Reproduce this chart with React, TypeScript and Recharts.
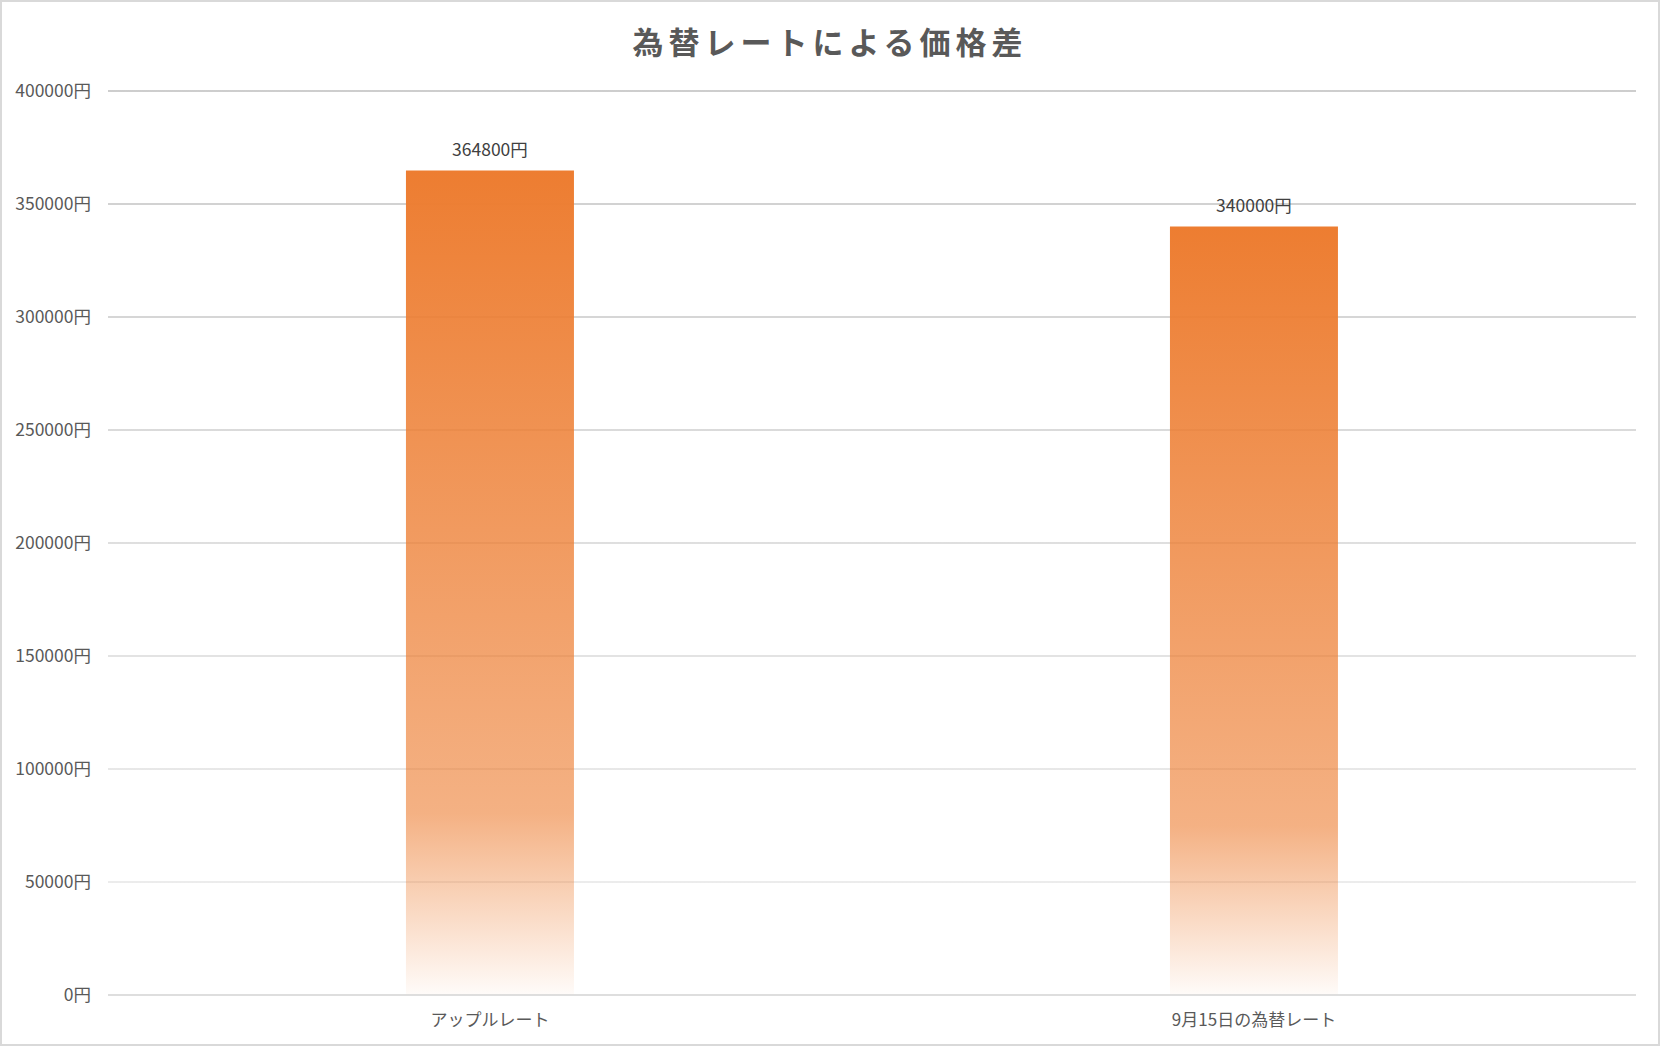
import React from 'react';
import { BarChart, Bar, XAxis, YAxis, CartesianGrid, LabelList } from 'recharts';

const categories = ['アップルレート', '9月15日の為替レート'];
const prices = [364800, 340000];
const yTicks = [0, 50000, 100000, 150000, 200000, 250000, 300000, 350000, 400000];
const titleText = '為替レートによる価格差';
const unit = '円';

const data = categories.map((name, i) => ({ name, price: prices[i] }));

const W = 1660;
const H = 1046;
const FONT = '"Noto Sans CJK JP", "Noto Sans", sans-serif';

export default function App() {
  return (
    <div style={{ position: 'absolute', left: 0, top: 0, width: W, height: H, background: '#fff' }}>
      <div
        style={{
          position: 'absolute',
          left: 0,
          top: 0,
          width: W,
          height: H,
          border: '2px solid #D9D9D9',
          boxSizing: 'border-box',
          pointerEvents: 'none',
          zIndex: 2,
        }}
      />
      <div
        style={{
          position: 'absolute',
          left: 0,
          top: 19,
          width: W,
          textAlign: 'center',
          fontFamily: FONT,
          fontWeight: 700,
          fontSize: 31,
          letterSpacing: 5,
          color: '#595959',
          lineHeight: '44px',
        }}
      >
        {titleText}
      </div>
      <BarChart
        width={W}
        height={H}
        data={data}
        margin={{ top: 91, right: 24, bottom: 0, left: 0 }}
        barCategoryGap="39%"
      >
        <defs>
          <linearGradient id="barGrad" x1="0" y1="0" x2="0" y2="1">
            <stop offset="0%" stopColor="#ED7D31" stopOpacity={1} />
            <stop offset="78%" stopColor="#ED7D31" stopOpacity={0.6} />
            <stop offset="100%" stopColor="#ED7D31" stopOpacity={0.03} />
          </linearGradient>
          <linearGradient id="gridGrad" gradientUnits="userSpaceOnUse" x1="0" y1="91" x2="0" y2="995">
            <stop offset="0%" stopColor="#BDBDBD" />
            <stop offset="100%" stopColor="#EBEBEB" />
          </linearGradient>
        </defs>
        <CartesianGrid vertical={false} stroke="url(#gridGrad)" strokeWidth={1.5} />
        <XAxis
          dataKey="name"
          height={51}
          tickSize={0}
          tickMargin={19}
          axisLine={{ stroke: '#D9D9D9', strokeWidth: 1.5 }}
          tickLine={false}
          tick={{ fontFamily: FONT, fontSize: 17, fill: '#595959' }}
        />
        <YAxis
          width={108}
          domain={[0, 400000]}
          ticks={yTicks}
          interval={0}
          tickSize={0}
          tickMargin={17}
          axisLine={false}
          tickLine={false}
          tickFormatter={(v: number) => `${v}${unit}`}
          tick={{ fontFamily: FONT, fontSize: 17.5, fill: '#595959' }}
        />
        <Bar dataKey="price" fill="url(#barGrad)" isAnimationActive={false}>
          <LabelList
            dataKey="price"
            position="top"
            offset={15}
            formatter={(v: number) => `${v}${unit}`}
            style={{ fontFamily: FONT, fontSize: 17.5, fill: '#404040' }}
          />
        </Bar>
      </BarChart>
    </div>
  );
}
